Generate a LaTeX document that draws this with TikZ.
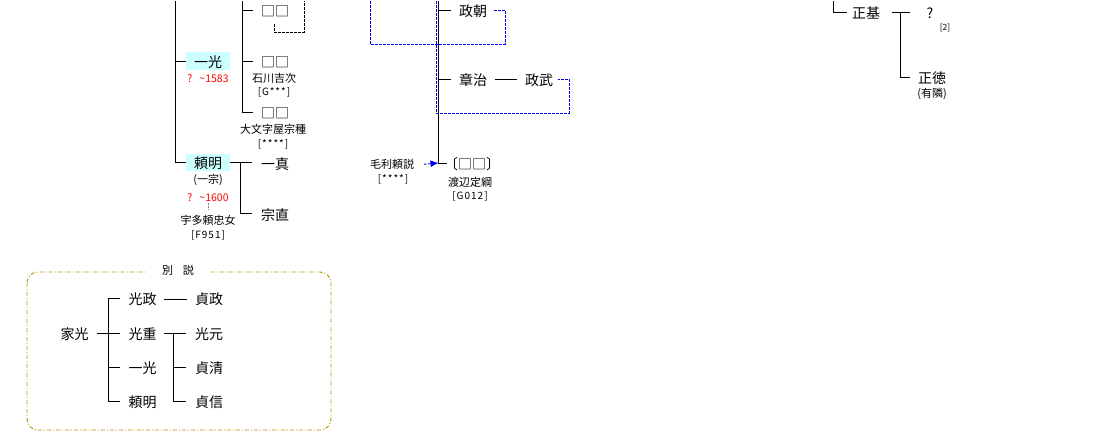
\documentclass[tikz,border=0pt]{standalone}
\usepackage{fontspec}
\setmainfont{Noto Sans CJK JP}
\usetikzlibrary{arrows.meta}
\definecolor{hl}{HTML}{CCFFFF}
\definecolor{gold}{HTML}{B8960C}
\definecolor{lnblue}{HTML}{0000EE}
\tikzset{
  every node/.append style={yshift=-1.2pt},
  nm/.style={inner sep=0pt,font=\fontsize{14}{14}\selectfont},
  sm/.style={inner sep=0pt,font=\fontsize{11}{11}\selectfont},
  tiny/.style={inner sep=0pt,font=\fontsize{10}{10}\selectfont\addfontfeature{LetterSpace=10}},
  red/.style={inner sep=0pt,font=\fontsize{10.5}{10.5}\selectfont,text=red},
  ln/.style={line width=0.9pt},
  bdash/.style={line width=0.9pt,lnblue,dash pattern=on 2.5pt off 1.5pt},
  kdash/.style={line width=0.9pt,black,dash pattern=on 2.5pt off 1.5pt},
}
\begin{document}
\begin{tikzpicture}[x=1pt,y=-1pt]
\useasboundingbox[fill=white] (0,0) rectangle (1094,438);

% ---------- left tree ----------
\coordinate (t1) at (175,0);
\coordinate (t2) at (242,0);
\fill[hl] (186,52.5) rectangle (230,70);
\fill[hl] (186,154) rectangle (230,171);
\node[nm] (kazumitsu) at (208,61) {一光};
\node[red] (k1583) at (208,77) {?\ \ \ \textasciitilde1583};
\node[nm] (yoriaki) at (208,162.5) {頼明};
\node[sm] (issou) at (208,179) {(一宗)};
\node[red] (k1600) at (208,196) {?\ \ \ \textasciitilde1600};
\node[sm] (udaj) at (208,219) {宇多頼忠女};
\node[tiny] (f951) at (208,234) {[F951]};
\draw[line width=0.8pt,gray,dash pattern=on 2pt off 1pt] (k1600.south |- 0,203) -- (k1600.south |- 0,210);
\draw[ln] (t1) |- (186,162.5);
\draw[ln] (t1 |- 0,61) -- (186,61);

\node[nm] (s1) at (275,10) {□□};
\node[nm] (s2) at (275,61) {□□};
\node[sm] (ishikawa) at (274,77) {石川吉次};
\node[tiny] (g1) at (274,91) {[G***]};
\node[nm] (s3) at (275,112) {□□};
\node[sm] (daimonji) at (273,128) {大文字屋宗種};
\node[tiny] (g2) at (273,143) {[****]};
\draw[ln] (t2) -- (242,112) -- (253,112);
\draw[ln] (242,10) -- (253,10);
\draw[ln] (242,61) -- (253,61);
\coordinate (d1) at (274,23);
\coordinate (d2) at (304,0);
\draw[kdash] (d1) -- (274,32) -- (304,32) -- (d2);

\node[nm] (kazuma) at (275,163) {一真};
\node[nm] (munenao) at (275,214) {宗直};
\draw[ln] (230,162.5) -- (252,162.5);
\draw[ln] (240,162.5) |- (252,213);

% ---------- middle ----------
\coordinate (m1) at (370,0);
\coordinate (m2) at (436,0);
\coordinate (m3) at (438.5,0);
\node[nm] (masatomo) at (473,10) {政朝};
\node[nm] (akiharu) at (473,79) {章治};
\node[nm] (masatake) at (539,79) {政武};
\node[nm] (bracket) at (472,163) {〔□□〕};
\node[sm] (watanabe) at (470,181) {渡辺定綱};
\node[tiny] (g012) at (470,195) {[G012]};
\node[sm] (mouri) at (392,163) {毛利頼説};
\node[tiny] (g3) at (393,178) {[****]};

\draw[bdash] (m1) -- (370,44) -- (505,44) -- (505,10) -- (494,10);
\draw[bdash] (m2) -- (436,113) -- (569,113) -- (569,79) -- (558,79);
\draw[ln] (m3) -- (438.5,163) -- (447,163);
\draw[ln] (438.5,10) -- (451,10);
\draw[ln] (438.5,79) -- (451,79);
\draw[ln] (495,79) -- (517,79);
\draw[line width=0.9pt,lnblue,dash pattern=on 2.5pt off 1.5pt,-{Latex[length=8pt,width=7pt]}] (mouri.east) ++(10,0) -- (438.5,163);

% ---------- right ----------
\coordinate (r1) at (833,0);
\node[nm] (masamoto) at (866,12) {正基};
\node[nm] (q) at (930,12) {?};
\node[inner sep=0pt,font=\fontsize{8.5}{8.5}\selectfont] (n2) at (945,27) {[2]};
\node[nm] (masanori) at (932,77) {正徳};
\node[sm] (yuurin) at (932,93) {(有隣)};
\draw[ln] (r1) -- (833,12) -- (847,12);
\draw[ln] (892,12) -- (910,12);
\draw[ln] (900,12) |- (910,77);

% ---------- alternative theory box ----------
\draw[line width=0.9pt,gold,dash pattern=on 4pt off 2pt on 1pt off 2pt,rounded corners=11pt] (27,272) rectangle (331,430);
\node[sm,fill=white,minimum width=65pt,minimum height=8pt] (title) at (178,269) {別\hspace{0.9em}説};

\node[nm] (iemitsu) at (74.5,333) {家光};
\node[nm] (mitsumasa) at (142.5,298) {光政};
\node[nm] (mitsushige) at (142.5,333) {光重};
\node[nm] (kazumitsu2) at (142.5,367) {一光};
\node[nm] (yoriaki2) at (142.5,401) {頼明};
\node[nm] (sadamasa) at (209,298) {貞政};
\node[nm] (mitsumoto) at (209,333) {光元};
\node[nm] (sadakiyo) at (209,367) {貞清};
\node[nm] (sadanobu) at (209,401) {貞信};
\draw[ln] (97,333) -- (120,333);
\draw[ln] (120,298) -| (108,401) -- (120,401);
\draw[ln] (108,367) -- (120,367);
\draw[ln] (164,299) -- (187,299);
\draw[ln] (164,333) -- (186,333);
\draw[ln] (173,333) |- (186,401);
\draw[ln] (173,367) -- (186,367);
\end{tikzpicture}
\end{document}
